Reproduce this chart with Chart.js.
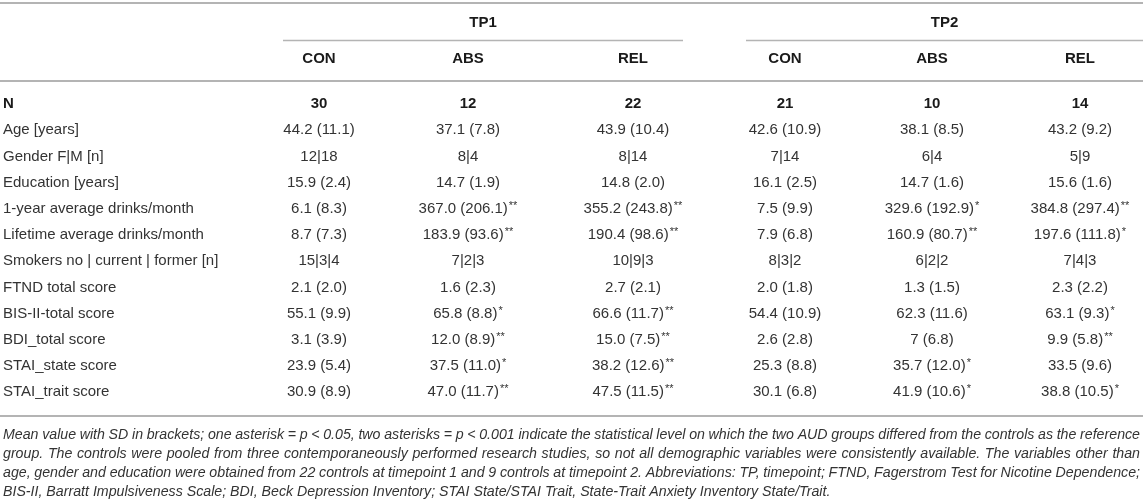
<!DOCTYPE html>
<html>
<head>
<meta charset="utf-8">
<script src="https://cdn.jsdelivr.net/npm/chart.js@4.4.1/dist/chart.umd.min.js"></script>
<style>
  html, body { margin: 0; padding: 0; background: #fff; }
  #wrap { width: 1143px; height: 503px; position: relative; }
</style>
</head>
<body>
<div id="wrap"><canvas id="tbl"></canvas></div>
<script>
// table data
const timepoints = ['TP1', 'TP2'];
const groups = ['CON', 'ABS', 'REL', 'CON', 'ABS', 'REL'];
const rowLabels = [
    'N', 'Age [years]', 'Gender F|M [n]', 'Education [years]',
    '1-year average drinks/month', 'Lifetime average drinks/month',
    'Smokers no | current | former [n]', 'FTND total score', 'BIS-II-total score',
    'BDI_total score', 'STAI_state score', 'STAI_trait score'
];
const tp1Con = ['30', '44.2 (11.1)', '12|18', '15.9 (2.4)', '6.1 (8.3)', '8.7 (7.3)', '15|3|4', '2.1 (2.0)', '55.1 (9.9)', '3.1 (3.9)', '23.9 (5.4)', '30.9 (8.9)'];
const tp1Abs = ['12', '37.1 (7.8)', '8|4', '14.7 (1.9)', '367.0 (206.1)**', '183.9 (93.6)**', '7|2|3', '1.6 (2.3)', '65.8 (8.8)*', '12.0 (8.9)**', '37.5 (11.0)*', '47.0 (11.7)**'];
const tp1Rel = ['22', '43.9 (10.4)', '8|14', '14.8 (2.0)', '355.2 (243.8)**', '190.4 (98.6)**', '10|9|3', '2.7 (2.1)', '66.6 (11.7)**', '15.0 (7.5)**', '38.2 (12.6)**', '47.5 (11.5)**'];
const tp2Con = ['21', '42.6 (10.9)', '7|14', '16.1 (2.5)', '7.5 (9.9)', '7.9 (6.8)', '8|3|2', '2.0 (1.8)', '54.4 (10.9)', '2.6 (2.8)', '25.3 (8.8)', '30.1 (6.8)'];
const tp2Abs = ['10', '38.1 (8.5)', '6|4', '14.7 (1.6)', '329.6 (192.9)*', '160.9 (80.7)**', '6|2|2', '1.3 (1.5)', '62.3 (11.6)', '7 (6.8)', '35.7 (12.0)*', '41.9 (10.6)*'];
const tp2Rel = ['14', '43.2 (9.2)', '5|9', '15.6 (1.6)', '384.8 (297.4)**', '197.6 (111.8)*', '7|4|3', '2.3 (2.2)', '63.1 (9.3)*', '9.9 (5.8)**', '33.5 (9.6)', '38.8 (10.5)*'];
const columns = [tp1Con, tp1Abs, tp1Rel, tp2Con, tp2Abs, tp2Rel];
const footnote = [
    'Mean value with SD in brackets; one asterisk = p < 0.05, two asterisks = p < 0.001 indicate the statistical level on which the two AUD groups differed from the controls as the reference',
    'group. The controls were pooled from three contemporaneously performed research studies, so not all demographic variables were consistently available. The variables other than',
    'age, gender and education were obtained from 22 controls at timepoint 1 and 9 controls at timepoint 2. Abbreviations: TP, timepoint; FTND, Fagerstrom Test for Nicotine Dependence;',
    'BIS-II, Barratt Impulsiveness Scale; BDI, Beck Depression Inventory; STAI State/STAI Trait, State-Trait Anxiety Inventory State/Trait.'
];

// layout (x in scale units across the width, y in row units, N row = 0)
const colX = [319, 468, 633, 785, 932, 1080];
const labelX = 3;
const rightX = 1140;
const spanX = [[283, 683], [746, 1143]];
const rowY = { top: -3.85, tp: -3.09, under: -2.44, group: -1.72, head: -0.88, bottom: 11.9, foot: 12.63, footStep: 0.725 };

const FONT = '"Liberation Sans", Arial, Helvetica, sans-serif';
const TEXT = '#333333';
const DARK = '#1a1a1a';
const RULE = '#b4b4b4';

// one point per cell, the plugin writes the text at its position
const cellPoints = [];
columns.forEach((col, c) => {
    col.forEach((v, r) => cellPoints.push({ x: colX[c], y: r, text: v, bold: r === 0 }));
});
const labelPoints = rowLabels.map((t, r) => ({ x: labelX, y: r, text: t, bold: r === 0 }));

function drawCell(ctx, text, cx, cy, bold, align) {
    const m = text.match(/^(.*?)(\*+)$/);
    const main = m ? m[1] : text;
    const stars = m ? m[2] : '';
    ctx.font = (bold ? 'bold ' : '') + '15px ' + FONT;
    const w1 = ctx.measureText(main).width;
    ctx.font = '11px ' + FONT;
    const w2 = stars ? ctx.measureText(stars).width + 1 : 0;
    let x = align === 'left' ? cx : cx - (w1 + w2) / 2;
    ctx.fillStyle = bold ? DARK : TEXT;
    ctx.textAlign = 'left';
    ctx.textBaseline = 'middle';
    ctx.font = (bold ? 'bold ' : '') + '15px ' + FONT;
    ctx.fillText(main, x, cy);
    if (stars) {
        ctx.font = '11px ' + FONT;
        ctx.fillText(stars, x + w1 + 1, cy - 3);
    }
}

function hline(ctx, x0, x1, y, w) {
    ctx.beginPath();
    ctx.strokeStyle = RULE;
    ctx.lineWidth = w;
    ctx.moveTo(x0, y);
    ctx.lineTo(x1, y);
    ctx.stroke();
}

const tablePlugin = {
    id: 'tableText',
    afterDatasetsDraw(chart) {
        const ctx = chart.ctx;
        const xs = chart.scales.x, ys = chart.scales.y;
        const px = v => xs.getPixelForValue(v);
        const py = v => ys.getPixelForValue(v);
        ctx.save();

        // rules
        hline(ctx, px(0), px(1143), Math.round(py(rowY.top)), 2);
        hline(ctx, px(0), px(1143), Math.round(py(rowY.head)), 2);
        hline(ctx, px(0), px(1143), Math.round(py(rowY.bottom)), 2);
        spanX.forEach(s => hline(ctx, px(s[0]), px(s[1]), Math.round(py(rowY.under)) + 0.5, 1.5));

        // header
        timepoints.forEach((t, i) => {
            drawCell(ctx, t, px((spanX[i][0] + spanX[i][1]) / 2), py(rowY.tp), true);
        });
        groups.forEach((g, i) => drawCell(ctx, g, px(colX[i]), py(rowY.group), true));

        // body cells from the dataset elements
        chart.data.datasets.forEach((ds, di) => {
            const meta = chart.getDatasetMeta(di);
            meta.data.forEach((el, i) => {
                const p = ds.data[i];
                drawCell(ctx, p.text, el.x, el.y, p.bold, di === 1 ? 'left' : 'center');
            });
        });

        // footnote, justified
        ctx.font = 'italic 14.2px ' + FONT;
        ctx.fillStyle = TEXT;
        ctx.textAlign = 'left';
        ctx.textBaseline = 'middle';
        const x0 = px(labelX), x1 = px(rightX);
        footnote.forEach((line, i) => {
            const y = py(rowY.foot + i * rowY.footStep);
            if (i === footnote.length - 1) {
                ctx.fillText(line, x0, y);
                return;
            }
            const words = line.split(' ');
            const widths = words.map(w => ctx.measureText(w).width);
            const sum = widths.reduce((a, b) => a + b, 0);
            const gap = (x1 - x0 - sum) / (words.length - 1);
            let x = x0;
            words.forEach((w, k) => {
                ctx.fillText(w, x, y);
                x += widths[k] + gap;
            });
        });
        ctx.restore();
    }
};

new Chart(document.getElementById('tbl'), {
    type: 'scatter',
    data: {
        datasets: [
            { data: cellPoints, pointRadius: 0, showLine: false },
            { data: labelPoints, pointRadius: 0, showLine: false }
        ]
    },
    options: {
        responsive: true,
        maintainAspectRatio: false,
        animation: false,
        events: [],
        layout: { padding: 0 },
        plugins: { legend: { display: false }, tooltip: { enabled: false } },
        scales: {
            x: { type: 'linear', display: false, min: 0, max: 1143 },
            y: { type: 'linear', display: false, reverse: true, min: -3.97, max: 15.23 }
        }
    },
    plugins: [tablePlugin]
});
</script>
</body>
</html>
